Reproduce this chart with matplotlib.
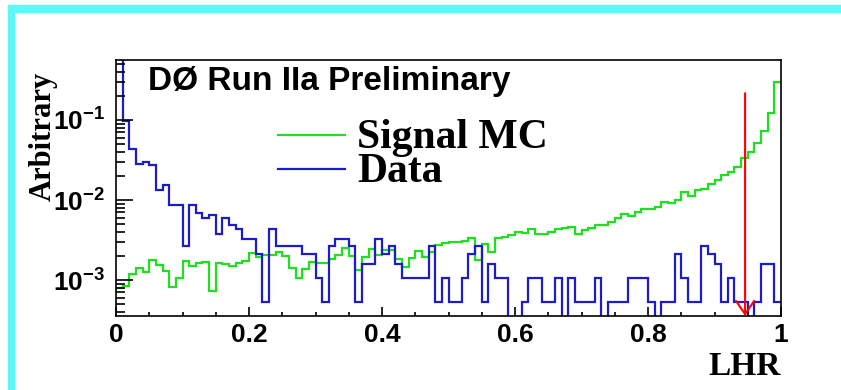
import numpy as np
import matplotlib
matplotlib.use('Agg')
import matplotlib.pyplot as plt
from matplotlib.ticker import MultipleLocator, LogLocator, FuncFormatter, NullFormatter
from matplotlib.lines import Line2D
from matplotlib.patches import Rectangle

plt.rcParams['font.family'] = ['Liberation Sans', 'DejaVu Sans']
plt.rcParams['font.weight'] = 'bold'
plt.rcParams['mathtext.fontset'] = 'custom'
plt.rcParams['mathtext.bf'] = 'Liberation Sans:bold'
plt.rcParams['mathtext.rm'] = 'Liberation Sans:bold'

# 100 bins of LHR between 0 and 1
lhr_edges = np.linspace(0, 1, 101)

signal_mc = [0.00079, 0.00085, 0.00119, 0.00140, 0.00126, 0.00180, 0.00153, 0.00131, 0.00082, 0.00105,
             0.00174, 0.00150, 0.00162, 0.00168, 0.00072, 0.00162, 0.00158, 0.00150, 0.00162, 0.00174,
             0.00218, 0.00194, 0.00208, 0.00208, 0.00226, 0.00198, 0.00143, 0.00106, 0.00137, 0.00168,
             0.00161, 0.00165, 0.00183, 0.00205, 0.00248, 0.00200, 0.00133, 0.00194, 0.00241, 0.00205,
             0.00237, 0.00237, 0.00183, 0.00147, 0.00188, 0.00230, 0.00196, 0.00221, 0.00274, 0.00290,
             0.00299, 0.00299, 0.00303, 0.00335, 0.00178, 0.00282, 0.00224, 0.00338, 0.00348, 0.00365,
             0.00393, 0.00384, 0.00428, 0.00376, 0.00381, 0.00395, 0.00428, 0.00451, 0.00460, 0.00381,
             0.00422, 0.00443, 0.00483, 0.00487, 0.00535, 0.00591, 0.00663, 0.00631, 0.00708, 0.00772,
             0.00772, 0.00806, 0.00944, 0.00909, 0.0100, 0.0125, 0.0113, 0.0133, 0.0139, 0.0157,
             0.0178, 0.0205, 0.0226, 0.0261, 0.0332, 0.0402, 0.0511, 0.0729, 0.121, 0.301]

data_counts = [1100, 180, 80, 53, 56, 51, 25, 29, 16, 16,
               5, 16, 13, 11, 12, 7, 11, 9, 8, 6,
               6, 4, 1, 8, 5, 5, 5, 5, 4, 4,
               2, 1, 5, 6, 6, 5, 1, 3, 3, 6,
               4, 5, 3, 2, 2, 2, 2, 5, 1, 2,
               1, 1, 2, 4, 5, 1, 3, 2, 2, 0,
               0, 1, 2, 2, 1, 1, 2, 0, 2, 1,
               1, 1, 2, 0, 1, 1, 1, 2, 2, 2,
               1, 0, 1, 1, 4, 2, 1, 1, 5, 4,
               3, 1, 2, 1, 1, 0, 1, 3, 3, 1]
data_unit = 5.36e-4   # weight of one data event

lhr_cut = 0.946
arrow_top = 0.216

green = '#1fe01f'
blue = '#1c1cc8'

fig = plt.figure(figsize=(8.41, 3.90), dpi=100)
# cyan frame of the slide
fig.patches.append(Rectangle((8/841, 0), 6/841, 385/390, transform=fig.transFigure,
                             color='#5ef6f6', zorder=0))
fig.patches.append(Rectangle((8/841, 378/390), 833/841, 7/390, transform=fig.transFigure,
                             color='#5ef6f6', zorder=0))

ax = fig.add_axes([116/841, 74/390, 665/841, 256/390])

counts = np.array(data_counts, dtype=float)
data_vals = np.where(counts > 0, counts * data_unit, 1e-9)

ax.stairs(signal_mc, lhr_edges, color=green, lw=1.6, baseline=None)
ax.stairs(data_vals, lhr_edges, color=blue, lw=1.6, baseline=None)

ax.set_yscale('log')
ax.set_xlim(0, 1)
ax.set_ylim(3.55e-4, 0.562)

ax.xaxis.set_major_locator(MultipleLocator(0.2))
ax.xaxis.set_minor_locator(MultipleLocator(0.05))
ax.xaxis.set_major_formatter(FuncFormatter(lambda v, p: '%g' % v))
ax.yaxis.set_major_locator(LogLocator(base=10, numticks=10))
ax.yaxis.set_minor_locator(LogLocator(base=10, subs=np.arange(2, 10), numticks=20))
ax.yaxis.set_minor_formatter(NullFormatter())
ax.yaxis.set_major_formatter(FuncFormatter(lambda v, p: r'$\mathbf{10^{%d}}$' % round(np.log10(v))))

ax.tick_params(which='both', direction='in', top=False, right=False, labelsize=19)
ax.tick_params(axis='x', which='major', length=6.5, width=1.2, pad=5)
ax.tick_params(axis='x', which='minor', length=3.2, width=1.2)
ax.tick_params(axis='y', which='major', length=12, width=1.2, pad=8)
ax.tick_params(axis='y', which='minor', length=6.5, width=1.2)
for s in ax.spines.values():
    s.set_linewidth(1.2)

ax.set_ylabel('Arbitrary', fontfamily='Liberation Serif', fontweight='bold', fontsize=22)
ax.yaxis.set_label_coords(-0.11, 0.703)
ax.yaxis.label.set_va('center')
ax.set_xlabel('LHR', loc='right', fontfamily='Liberation Serif', fontweight='bold', fontsize=24)
ax.xaxis.set_label_coords(1.0, -0.199)
ax.xaxis.label.set_va('center')

ax.text(0.048, 0.883, 'DØ Run IIa Preliminary', transform=ax.transAxes,
        fontsize=24, fontweight='bold', va='baseline')

handles = [Line2D([], [], color=green, lw=1.6), Line2D([], [], color=blue, lw=1.6)]
ax.legend(handles, ['Signal MC', 'Data'], loc='upper left', bbox_to_anchor=(0.2436, 0.77),
          frameon=False, borderpad=0, borderaxespad=0, handlelength=1.6, handletextpad=0.3,
          handleheight=0.4, labelspacing=-0.1,
          prop={'family': 'Liberation Serif', 'weight': 'bold', 'size': 30})

ax.annotate('', xy=(lhr_cut, ax.get_ylim()[0]), xytext=(lhr_cut, arrow_top),
            arrowprops=dict(arrowstyle='->,head_length=0.95,head_width=0.65', color='red',
                            lw=1.5, shrinkA=0, shrinkB=0, mutation_scale=10),
            annotation_clip=False)

fig.savefig('out.png', dpi=100)
